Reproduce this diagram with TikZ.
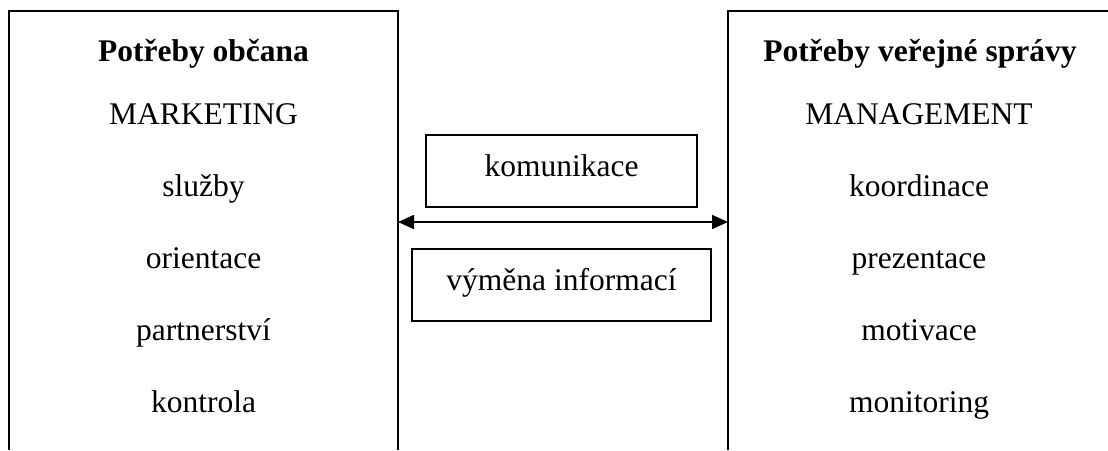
\documentclass[tikz,border=0pt]{standalone}
\usepackage{fontspec}
\setmainfont{Liberation Serif}
\usetikzlibrary{arrows.meta}
\tikzset{mytip/.tip={Triangle[length=16pt,width=14pt]}}
\begin{document}
\begin{tikzpicture}[x=1pt,y=-1pt,line width=1.6pt,
  lbl/.style={anchor=base,inner sep=0pt,font=\fontsize{31.5}{36}\selectfont},
  hd/.style={anchor=base,inner sep=0pt,font=\fontsize{31.5}{36}\selectfont\bfseries},
  mbox/.style={draw,line width=1.6pt,inner sep=0pt,font=\fontsize{31.5}{36}\selectfont},
  dblarrow/.style={mytip-mytip}]
\useasboundingbox (0,0) rectangle (1108,450);
% left open box
\coordinate (LBL) at (9,450);
\coordinate (LTL) at (9,11);
\coordinate (LTR) at (398,11);
\coordinate (LBR) at (398,450);
\draw (LBL) -- (LTL) -- (LTR) -- (LBR);
% right open box
\coordinate (RBL) at (728,450);
\coordinate (RTL) at (728,11);
\coordinate (RTR) at (1108,11);
\draw (RBL) -- (RTL) -- (RTR);
% left column
\node[hd]  (l0) at (203.5,61)  {Potřeby občana};
\node[lbl] (l1) at (203.5,124) {MARKETING};
\node[lbl] (l2) at (203.5,196.5) {služby};
\node[lbl] (l3) at (203.5,268) {orientace};
\node[lbl] (l4) at (203.5,340) {partnerství};
\node[lbl] (l5) at (203.5,412) {kontrola};
% right column
\node[hd]  (r0) at (920,61)  {Potřeby veřejné správy};
\node[lbl] (r1) at (919,124) {MANAGEMENT};
\node[lbl] (r2) at (919,196.5) {koordinace};
\node[lbl] (r3) at (919,268) {prezentace};
\node[lbl] (r4) at (919,340) {motivace};
\node[lbl] (r5) at (919,412) {monitoring};
% middle boxes
\node[mbox,minimum width=271pt,text height=41.7pt,text depth=30.3pt,anchor=north] (kom) at (561.5,134) {komunikace};
\node[mbox,minimum width=299pt,text height=42pt,text depth=30pt,anchor=north] (vym) at (561.5,248) {výměna informací};
% arrow
\coordinate (aL) at (398,222);
\coordinate (aR) at (728,222);
\draw[dblarrow] (aL) -- (aR);
\end{tikzpicture}
\end{document}
